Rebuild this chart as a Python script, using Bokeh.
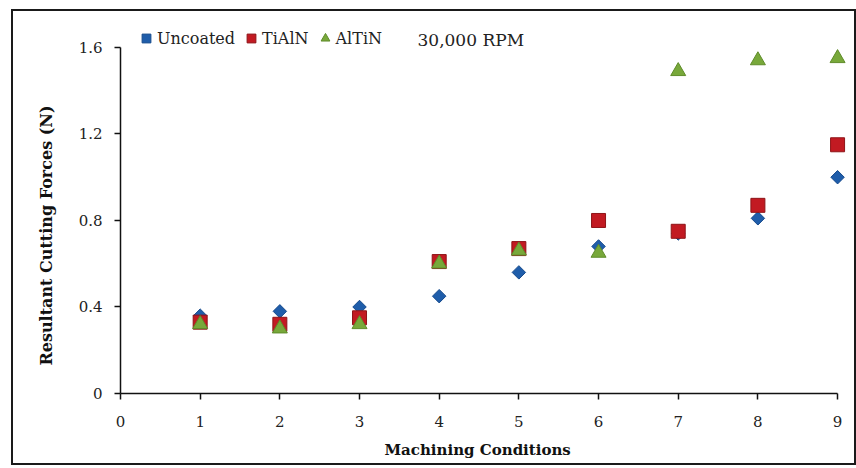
from bokeh.plotting import figure
from bokeh.models import (Range1d, FixedTicker, CustomJSTickFormatter, Legend,
                          LegendItem, Label, Title)
from bokeh.embed import file_html
from bokeh.resources import INLINE
import numpy as np

conditions = [1, 2, 3, 4, 5, 6, 7, 8, 9]
uncoated = [0.36, 0.38, 0.40, 0.45, 0.56, 0.68, 0.74, 0.81, 1.00]
tialn = [0.33, 0.32, 0.35, 0.61, 0.67, 0.80, 0.75, 0.87, 1.15]
altin = [0.32, 0.30, 0.32, 0.60, 0.66, 0.65, 1.49, 1.54, 1.55]
x_ticks = [0, 1, 2, 3, 4, 5, 6, 7, 8, 9]
y_ticks = [0, 0.4, 0.8, 1.2, 1.6]

SERIF = "DejaVu Serif"

p = figure(width=845, height=456, output_backend="svg", toolbar_location=None,
           x_range=Range1d(0, 9.2), y_range=Range1d(0, 1.72),
           min_border_left=107, min_border_right=5, min_border_top=10,
           min_border_bottom=74,
           styles={"border": "2px solid #1a1a1a", "margin-left": "11px",
                   "margin-top": "9px", "margin-bottom": "-8px"})
p.outline_line_color = None
p.xgrid.visible = False
p.ygrid.visible = False

for ax in (p.xaxis[0], p.yaxis[0]):
    ax.axis_line_color = "#111111"
    ax.axis_line_width = 1.5
    ax.major_tick_line_color = "#111111"
    ax.major_tick_line_width = 1.5
    ax.major_tick_in = 0
    ax.major_tick_out = 6
    ax.minor_tick_line_color = None
    ax.major_label_text_font = SERIF
    ax.major_label_text_font_size = "15px"
    ax.major_label_text_color = "#222222"

p.xaxis.ticker = FixedTicker(ticks=x_ticks)
p.xaxis.bounds = (0, 9)
p.xaxis.major_label_standoff = 16

p.yaxis.ticker = FixedTicker(ticks=y_ticks)
p.yaxis.bounds = (0, 1.6)
p.yaxis.formatter = CustomJSTickFormatter(code="return tick == 0 ? '0' : tick.toFixed(1);")
p.yaxis.major_label_standoff = 12

p.add_layout(Title(text="Resultant Cutting Forces (N)", align="left", offset=28,
                   standoff=40, text_font=SERIF, text_font_size="16px",
                   text_font_style="bold", text_color="#111111"), "left")
p.add_layout(Title(text="Machining Conditions", align="left", offset=264,
                   standoff=18, text_font=SERIF, text_font_size="15px",
                   text_font_style="bold", text_color="#111111"), "below")

r_u = p.scatter(conditions, uncoated, marker="square", angle=np.pi / 4, size=9.5,
                fill_color="#1F5DAA", line_color="#164A8C", line_width=1)
r_t = p.scatter(conditions, tialn, marker="square", size=14,
                fill_color="#C21A22", line_color="#8E1418", line_width=1)
r_a = p.scatter(conditions, altin, marker="triangle", size=15,
                fill_color="#78A83A", line_color="#5F8C2A", line_width=1)

legend = Legend(items=[LegendItem(label="Uncoated", renderers=[r_u]),
                       LegendItem(label="TiAlN", renderers=[r_t]),
                       LegendItem(label="AlTiN", renderers=[r_a])],
                orientation="horizontal", location=(15, 344),
                label_text_font=SERIF, label_text_font_size="16px",
                label_text_color="#222222",
                glyph_width=22, glyph_height=22, label_standoff=0, spacing=5,
                padding=0, margin=0, border_line_color=None,
                background_fill_alpha=0)
p.add_layout(legend, "center")

p.add_layout(Label(x=297, y=354, x_units="screen", y_units="screen",
                   text="30,000 RPM", text_font=SERIF, text_font_size="17px",
                   text_color="#222222", text_baseline="middle"))

open("out.html", "w").write(file_html(p, INLINE))
